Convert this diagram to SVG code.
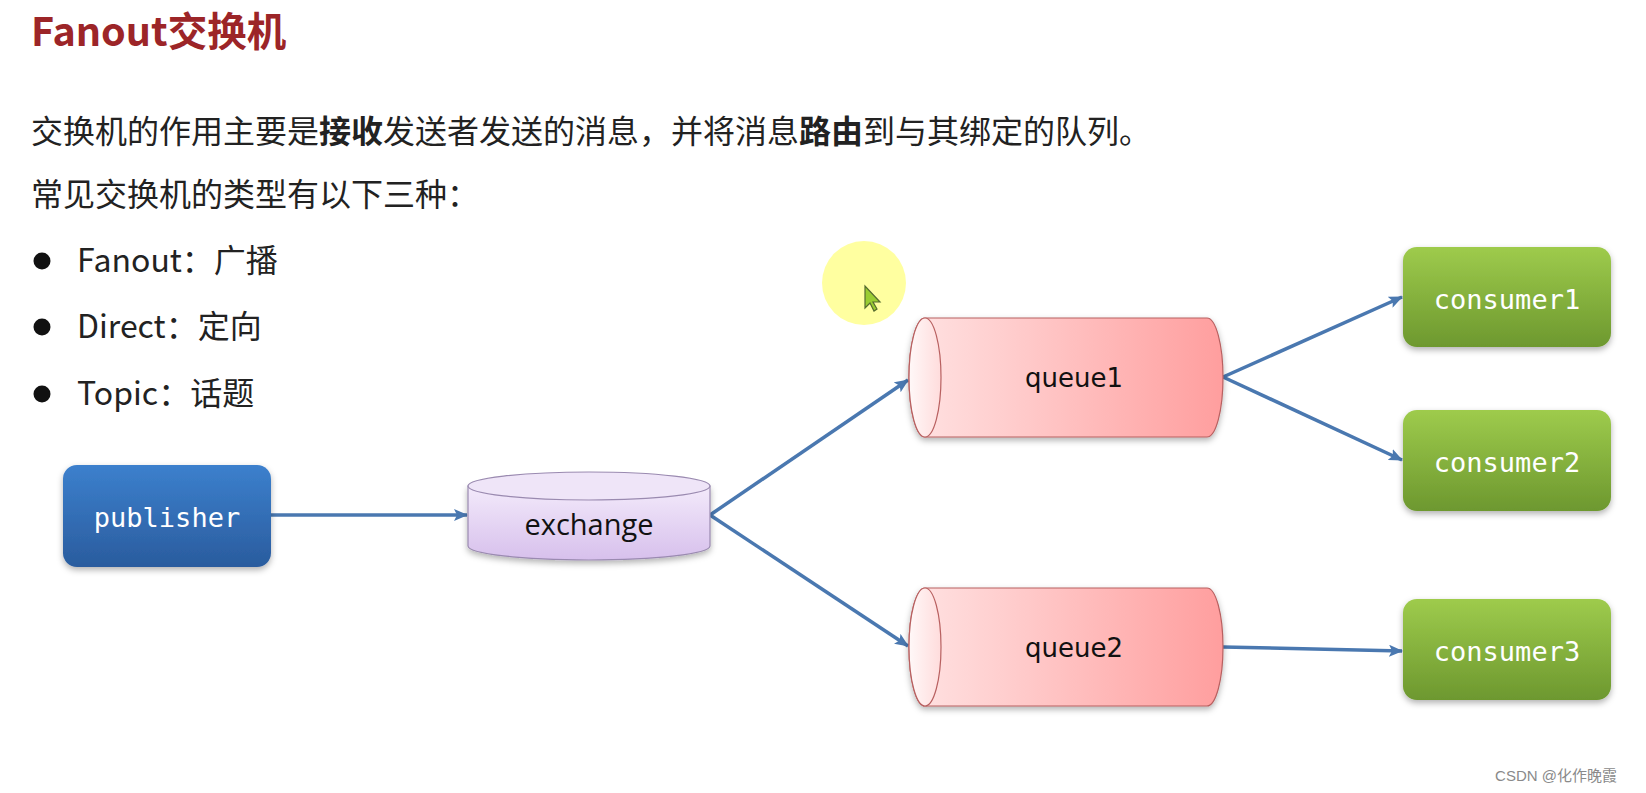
<svg xmlns="http://www.w3.org/2000/svg" width="1646" height="793" viewBox="0 0 1646 793">
<style>
.body{font-family:"Noto Sans CJK SC","Noto Sans",sans-serif;font-size:32px;fill:#222}
.b{font-weight:bold}
.mono{font-family:"DejaVu Sans Mono",monospace;font-size:27px;fill:#fff}
.qt{font-family:"DejaVu Sans",sans-serif;font-size:26px;fill:#111}
.conn{stroke:#4a78b0;stroke-width:3.5;fill:none}
</style>
<defs>
<linearGradient id="gBlue" x1="0" y1="0" x2="0" y2="1"><stop offset="0" stop-color="#3c80cd"/><stop offset="1" stop-color="#2a5c9e"/></linearGradient>
<linearGradient id="gGreen" x1="0" y1="0" x2="0" y2="1"><stop offset="0" stop-color="#9ecb4c"/><stop offset="1" stop-color="#6d982f"/></linearGradient>
<linearGradient id="gQueue" x1="0" y1="0" x2="1" y2="0"><stop offset="0" stop-color="#ffe3e3"/><stop offset="1" stop-color="#ff9e9e"/></linearGradient>
<linearGradient id="gFace" x1="0" y1="0" x2="1" y2="0"><stop offset="0" stop-color="#fff8f8"/><stop offset="1" stop-color="#ffdcdc"/></linearGradient>
<linearGradient id="gEx" x1="0" y1="0" x2="0" y2="1"><stop offset="0" stop-color="#f3eafb"/><stop offset="1" stop-color="#d7c0ec"/></linearGradient>
<filter id="sh" x="-10%" y="-10%" width="120%" height="130%"><feDropShadow dx="0" dy="3" stdDeviation="3" flood-color="#000" flood-opacity="0.3"/></filter>
<marker id="arr" markerWidth="14" markerHeight="12" refX="13" refY="6" orient="auto" markerUnits="userSpaceOnUse"><path d="M0,0 L14,6 L0,12 L3,6 Z" fill="#4a78b0"/></marker>
</defs>
<rect width="1646" height="793" fill="#fff"/>
<text x="31" y="46" style="font-family:'Noto Sans CJK SC','Noto Sans',sans-serif;font-size:39.5px;font-weight:bold;fill:#9c2528">Fanout交换机</text>
<text class="body" x="31" y="143">交换机的作用主要是<tspan class="b">接收</tspan>发送者发送的消息，并将消息<tspan class="b">路由</tspan>到与其绑定的队列。</text>
<text class="body" x="31" y="206">常见交换机的类型有以下三种：</text>
<circle cx="42" cy="261" r="8.5" fill="#111"/>
<circle cx="42" cy="327" r="8.5" fill="#111"/>
<circle cx="42" cy="394" r="8.5" fill="#111"/>
<text class="body" x="77" y="272">Fanout：广播</text>
<text class="body" x="77" y="338">Direct：定向</text>
<text class="body" x="77" y="405">Topic：话题</text>
<g id="cursor">
<circle cx="864" cy="283" r="42" fill="#ffff80" opacity="0.75"/>
<path d="M865,286 L865,308 L870,303 L874,311 L877,309 L873,302 L880,302 Z" fill="#9acd32" stroke="#556b2f" stroke-width="1.2"/>
</g>
<g id="connectors">
<line class="conn" x1="271" y1="515" x2="467" y2="515" marker-end="url(#arr)"/>
<line class="conn" x1="710" y1="515" x2="908" y2="380" marker-end="url(#arr)"/>
<line class="conn" x1="710" y1="515" x2="908" y2="646" marker-end="url(#arr)"/>
<line class="conn" x1="1223" y1="377" x2="1402" y2="297" marker-end="url(#arr)"/>
<line class="conn" x1="1223" y1="377" x2="1402" y2="460" marker-end="url(#arr)"/>
<line class="conn" x1="1223" y1="647" x2="1402" y2="651" marker-end="url(#arr)"/>
</g>
<g id="publisher">
<rect x="63" y="465" width="208" height="102" rx="14" fill="url(#gBlue)" filter="url(#sh)"/>
<text class="mono" x="167" y="517" text-anchor="middle" dominant-baseline="central">publisher</text>
</g>
<g id="exchange">
<path d="M468,486 V546 A121,14 0 0 0 710,546 V486 Z" fill="url(#gEx)" stroke="#9a8ab0" stroke-width="1.2" filter="url(#sh)"/>
<ellipse cx="589" cy="486" rx="121" ry="14" fill="#efe5f8" stroke="#9a8ab0" stroke-width="1.2"/>
<text x="589" y="523" text-anchor="middle" dominant-baseline="central" style="font-family:'Open Sans',sans-serif;font-size:29px;fill:#111">exchange</text>
</g>
<g id="queue1">
<path d="M925,318 H1207 A16,59.5 0 0 1 1207,437 H925 A16,59.5 0 0 1 925,318 Z" fill="url(#gQueue)" stroke="#b86060" stroke-width="1.2" filter="url(#sh)"/>
<ellipse cx="925" cy="377.5" rx="16" ry="59.5" fill="url(#gFace)" stroke="#b86060" stroke-width="1.2"/>
<text class="qt" x="1074" y="378" text-anchor="middle" dominant-baseline="central">queue1</text>
</g>
<g id="queue2">
<path d="M925,588 H1207 A16,59 0 0 1 1207,706 H925 A16,59 0 0 1 925,588 Z" fill="url(#gQueue)" stroke="#b86060" stroke-width="1.2" filter="url(#sh)"/>
<ellipse cx="925" cy="647" rx="16" ry="59" fill="url(#gFace)" stroke="#b86060" stroke-width="1.2"/>
<text class="qt" x="1074" y="648" text-anchor="middle" dominant-baseline="central">queue2</text>
</g>
<g id="consumer1">
<rect x="1403" y="247" width="208" height="100" rx="14" fill="url(#gGreen)" filter="url(#sh)"/>
<text class="mono" x="1507" y="299" text-anchor="middle" dominant-baseline="central">consumer1</text>
</g>
<g id="consumer2">
<rect x="1403" y="410" width="208" height="101" rx="14" fill="url(#gGreen)" filter="url(#sh)"/>
<text class="mono" x="1507" y="462" text-anchor="middle" dominant-baseline="central">consumer2</text>
</g>
<g id="consumer3">
<rect x="1403" y="599" width="208" height="101" rx="14" fill="url(#gGreen)" filter="url(#sh)"/>
<text class="mono" x="1507" y="651" text-anchor="middle" dominant-baseline="central">consumer3</text>
</g>
<text x="1617" y="781" text-anchor="end" style="font-family:'Liberation Sans','Noto Sans CJK SC',sans-serif;font-size:15px;fill:#8a8a8a">CSDN @化作晚霞</text>
</svg>
